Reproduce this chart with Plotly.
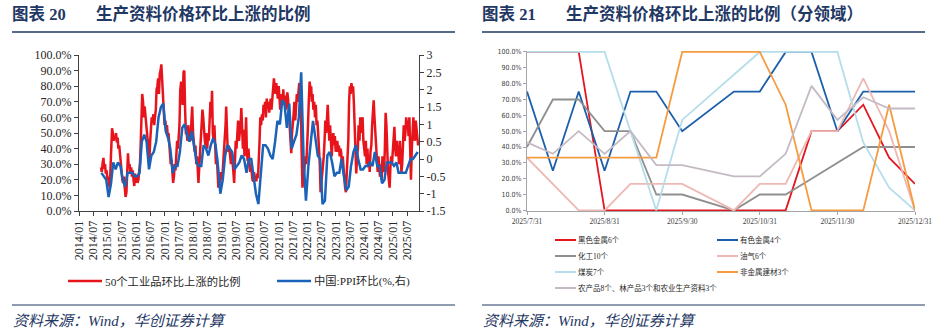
import pandas as pd
import plotly.graph_objects as go

W, H = 943, 333

# ---------------- left panel data ----------------
# share of 50 industrial products whose price rose, per ten-day period (%)
rise_2014 = [28, 25, 31, 34, 27, 30, 24, 26, 20]  # Oct-Dec
rise_2015 = [22, 17, 15, 30, 45, 53, 50, 45, 48, 46, 50, 44, 47, 40, 42, 35, 28, 25,
             20, 18, 22, 15, 9, 12, 25, 37, 28, 30, 25, 28, 22, 26, 20, 16, 24, 18]
rise_2016 = [22, 18, 20, 25, 30, 42, 55, 75, 70, 60, 67, 62, 55, 50, 45, 40, 33, 45,
             52, 60, 58, 62, 55, 60, 65, 78, 80, 85, 75, 88, 90, 94, 85, 72, 60, 55]
rise_2017 = [58, 52, 55, 48, 50, 42, 38, 30, 33, 25, 18, 22, 30, 26, 35, 45, 40, 48,
             55, 77, 83, 75, 68, 89, 90, 65, 50, 50, 45, 55, 48, 52, 45, 58, 67, 50]
rise_2018 = [45, 38, 42, 30, 35, 25, 18, 28, 40, 45, 55, 65, 60, 48, 45, 42, 50, 40,
             48, 45, 55, 70, 60, 77, 50, 45, 55, 38, 30, 35, 25, 15, 22, 18, 25, 20]
rise_2019 = [22, 30, 35, 45, 55, 67, 45, 38, 42, 40, 35, 30, 38, 28, 25, 18, 30, 45,
             40, 50, 58, 45, 50, 55, 66, 50, 40, 52, 35, 45, 60, 38, 32, 40, 28, 25]
rise_2020 = [30, 22, 20, 19, 25, 20, 22, 19, 24, 21, 30, 45, 60, 55, 62, 58, 68, 65,
             70, 60, 72, 66, 70, 63, 68, 72, 65, 75, 78, 85, 80, 75, 82, 78, 72, 80]
rise_2021 = [72, 65, 70, 75, 70, 78, 68, 74, 65, 70, 76, 72, 65, 55, 48, 37, 50, 55,
             62, 70, 58, 66, 75, 70, 78, 82, 80, 72, 40, 15, 20, 25, 28, 35, 30, 40]
rise_2022 = [55, 70, 83, 78, 80, 70, 75, 65, 70, 60, 68, 55, 58, 50, 40, 30, 12, 18,
             20, 28, 35, 45, 58, 50, 62, 68, 55, 45, 55, 40, 35, 45, 50, 42, 48, 38]
rise_2023 = [40, 45, 38, 42, 35, 40, 38, 30, 35, 28, 20, 15, 12, 22, 28, 45, 70, 80,
             75, 82, 78, 80, 70, 55, 45, 24, 35, 40, 55, 45, 60, 50, 58, 60, 45, 40]
rise_2024 = [35, 45, 30, 40, 28, 35, 25, 38, 42, 55, 65, 71, 60, 50, 40, 30, 25, 35,
             28, 22, 30, 20, 35, 30, 25, 40, 63, 55, 30, 25, 20, 15, 28, 35, 30, 40]
rise_2025 = [45, 54, 40, 35, 45, 38, 40, 30, 45, 35, 25, 30, 40, 55, 45, 50, 60, 55,
             58, 48, 60, 35, 20, 40, 55, 60, 50, 45, 58, 52, 48, 42]  # to Nov 20

# China PPI, month on month (%)
ppi_2014 = [-0.4, -0.5, -0.6]  # Oct-Dec
ppi_2015 = [-1.1, -0.7, -0.1, -0.3, -0.1, -0.2, -0.6, -0.8, -0.4, -0.4, -0.4, -0.5]
ppi_2016 = [-0.5, -0.4, 0.5, 0.7, 0.5, -0.3, 0.1, 0.2, 0.5, 1.2, 1.5, 1.6]
ppi_2017 = [0.8, 0.6, 0.3, -0.4, -0.2, -0.2, 0.2, 0.9, 1.0, 0.7, 0.5, 0.8]
ppi_2018 = [0.3, -0.1, -0.2, -0.2, 0.4, 0.3, 0.1, 0.4, 0.6, 0.4, -0.2, -1.0]
ppi_2019 = [-0.6, 0.1, 0.4, 0.3, 0.2, -0.3, -0.2, -0.1, 0.1, 0.0, -0.4, 0.0]
ppi_2020 = [0.0, -0.5, -1.0, -1.3, -0.4, 0.4, 0.4, 0.3, 0.1, 0.0, 0.5, 1.1]
ppi_2021 = [1.0, 1.7, 1.6, 0.9, 1.6, 0.3, 0.5, 0.7, 1.2, 2.5, 0.0, -1.2]
ppi_2022 = [-0.2, 0.5, 1.1, 0.6, 0.1, 0.0, -1.3, -1.2, 0.1, 0.2, -0.1, -0.5]
ppi_2023 = [-0.4, -0.4, 0.0, -0.5, -0.9, -0.8, -0.2, 0.2, 0.4, 0.0, -0.3, -0.3]
ppi_2024 = [-0.2, -0.2, -0.1, -0.2, 0.2, -0.2, -0.2, -0.7, -0.6, -0.1, -0.1, -0.1]
ppi_2025 = [-0.2, -0.1, -0.4, -0.4, -0.4, -0.4, -0.2, 0.0, 0.0, 0.1, 0.2]  # to Nov

left_ticks = [f"{y}/{m:02d}" for y in range(2014, 2026) for m in (1, 7)]

# ---------------- right panel data (%) ----------------
sector_dates = ["2025/7/31", "2025/8/10", "2025/8/20", "2025/8/31", "2025/9/10", "2025/9/20",
                "2025/9/30", "2025/10/10", "2025/10/20", "2025/10/31", "2025/11/10",
                "2025/11/20", "2025/11/30", "2025/12/10", "2025/12/20", "2025/12/31"]
ferrous = [100, 100, 100, 0, 0, 0, 0, None, 0, 0, 0, 50, 50, 66.7, 33.3, 16.7]
nonferrous = [75, 25, 75, 25, 75, 75, 50, None, 75, 75, 100, 100, 50, 75, 75, 75]
chemical = [40, 70, 70, 50, 50, 10, 10, None, 0, 10, 10, 20, 30, 40, 40, 40]
oil_gas = [33.3, 16.7, 0, 0, 16.7, 16.7, 16.7, None, 0, 16.7, 16.7, 50, 50, 83.3, 50, 0]
coal = [100, 100, 100, 100, 50, 0, 57.1, None, 85.7, 100, 100, 100, 100, 42.9, 14.3, 0]
building = [33.3, 33.3, 33.3, 33.3, 33.3, 33.3, 100, None, 100, 100, 66.7, 0, 0, 0, 66.7, 0]
agri = [42.9, 35.7, 50, 35.7, 50, 28.6, 28.6, None, 21.4, 21.4, 35.7, 78.6, 57.1, 71.4, 64.3, 64.3]

# ---------------- assemble series ----------------
rise_values = (rise_2014 + rise_2015 + rise_2016 + rise_2017 + rise_2018 + rise_2019 +
               rise_2020 + rise_2021 + rise_2022 + rise_2023 + rise_2024 + rise_2025)
ppi_values = (ppi_2014 + ppi_2015 + ppi_2016 + ppi_2017 + ppi_2018 + ppi_2019 +
              ppi_2020 + ppi_2021 + ppi_2022 + ppi_2023 + ppi_2024 + ppi_2025)

months = pd.period_range("2014-10", "2025-11", freq="M")
rise_dates = []
for p in months:
    rise_dates += [pd.Timestamp(p.year, p.month, 10), pd.Timestamp(p.year, p.month, 20),
                   pd.Timestamp(p.year, p.month, p.days_in_month)]
rise_dates = rise_dates[:len(rise_values)]
ppi_dates = [pd.Timestamp(p.year, p.month, 15) for p in months][:len(ppi_values)]
left_tickvals = [pd.Timestamp(int(t[:4]), int(t[5:]), 1) for t in left_ticks]

# ---------------- styling ----------------
NAVY = "#1F3864"
SERIF = "Liberation Serif, Noto Sans CJK SC"
NARROW = "Liberation Sans Narrow, DejaVu Sans Condensed, Liberation Sans"
RED, BLUE = "#E8141C", "#1B63B8"

left_series = [
    ("50个工业品环比上涨的比例", rise_dates, rise_values, RED, "y"),
    ("中国:PPI环比(%,右)", ppi_dates, ppi_values, BLUE, "y2"),
]
right_series = [
    ("黑色金属6个", ferrous, "#E3161F"),
    ("有色金属4个", nonferrous, "#1B5FAA"),
    ("化工10个", chemical, "#8F8F8F"),
    ("油气6个", oil_gas, "#EDB8B3"),
    ("煤炭7个", coal, "#B5DDEA"),
    ("非金属建材3个", building, "#F59B40"),
    ("农产品8个、林产品3个和农业生产资料3个", agri, "#C4BAC4"),
]


def px(x):
    return x / W


def py(y):
    return 1 - y / H


fig = go.Figure()
for name, xs, ys, color, yax in left_series:
    fig.add_trace(go.Scatter(x=xs, y=ys, name=name, mode="lines", xaxis="x", yaxis=yax,
                             line=dict(color=color, width=2.5), showlegend=False))
for name, ys, color in right_series:
    fig.add_trace(go.Scatter(x=sector_dates, y=ys, name=name, mode="lines", xaxis="x2",
                             yaxis="y3", connectgaps=True, showlegend=False,
                             line=dict(color=color, width=1.8)))

base = dict(showgrid=False, zeroline=False, showline=True, ticks="outside", automargin=False)
dark = dict(linecolor="#404040", tickcolor="#404040", linewidth=1, ticklen=4)
grey = dict(linecolor="#A6A6A6", tickcolor="#A6A6A6", linewidth=1, ticklen=3)
ppi_ticks = [-1.5, -1, -0.5, 0, 0.5, 1, 1.5, 2, 2.5, 3]

fig.update_layout(
    width=W, height=H, autosize=False,
    margin=dict(l=0, r=0, t=0, b=0, pad=0, autoexpand=False),
    paper_bgcolor="white", plot_bgcolor="white", showlegend=False,
    xaxis=dict(domain=[px(79), px(419)], anchor="y", type="date",
               range=["2014-01-01", "2025-12-01"], tickmode="array",
               tickvals=left_tickvals, ticktext=left_ticks, tickangle=-90,
               tickfont=dict(family=SERIF, size=12, color="#262626"), **base, **dark),
    yaxis=dict(domain=[py(211), py(55)], anchor="x", range=[0, 100], tickmode="array",
               tickvals=list(range(0, 101, 10)),
               ticktext=[f"{v:.1f}%" for v in range(0, 101, 10)],
               tickfont=dict(family=SERIF, size=12, color="#262626"), **base, **dark),
    yaxis2=dict(overlaying="y", side="right", anchor="x", range=[-1.5, 3], tickmode="array",
                tickvals=ppi_ticks, ticktext=[f"{v:g}" for v in ppi_ticks],
                tickfont=dict(family=SERIF, size=12, color="#262626"), **base, **dark),
    xaxis2=dict(domain=[px(527), px(915)], anchor="y3", type="category", range=[0, 15],
                tickmode="array", tickvals=sector_dates[::3], ticktext=sector_dates[::3],
                tickangle=0, layer="below traces",
                tickfont=dict(family=SERIF, size=7.5, color="#404040"), **base, **grey),
    yaxis3=dict(domain=[py(211), py(51)], anchor="x2", range=[-0.4, 100.6], tickmode="array",
                tickvals=list(range(0, 101, 10)),
                ticktext=[f"{v:.1f}%" for v in range(0, 101, 10)], layer="below traces",
                tickfont=dict(family=NARROW, size=7, color="#404040"), **base, **grey),
)

shapes, notes = [], []


def hline(x0, x1, y, color, width):
    shapes.append(dict(type="line", xref="paper", yref="paper", x0=px(x0), x1=px(x1),
                       y0=py(y), y1=py(y), line=dict(color=color, width=width)))


def text(x, y, s, size, color=NAVY, family=SERIF):
    notes.append(dict(xref="paper", yref="paper", x=px(x), y=py(y), text=s, showarrow=False,
                      xanchor="left", yanchor="middle", borderpad=0,
                      font=dict(family=family, size=size, color=color)))


# headings, rules and source notes for both panels
for x0, num, title in [(12, "20", "生产资料价格环比上涨的比例"),
                       (482, "21", "生产资料价格环比上涨的比例（分领域）")]:
    text(x0 - 1, 15, f"<b>图表 {num}</b>", 16.5)
    text(x0 + 83, 15, f"<b>{title}</b>", 16.5)
    hline(x0, x0 + 443, 32, NAVY, 1.5)
    hline(x0, x0 + 443, 305, NAVY, 1.2)
    text(x0, 321, "<i>资料来源：Wind，华创证券计算</i>", 15)

# legend of the left panel
for (name, _, _, color, _), (lx, ly) in zip(left_series, [(68, 281), (277, 281)]):
    hline(lx, lx + 34, ly, color, 2.6)
    text(lx + 36, ly, name, 11.3, color="#262626")

# legend of the right panel: two columns
for i, (name, _, color) in enumerate(right_series):
    lx = 555 if i % 2 == 0 else 717
    ly = 240 + 16 * (i // 2)
    hline(lx, lx + 21, ly, color, 2)
    text(lx + 22, ly, name, 7.5, color="#262626")

fig.update_layout(shapes=shapes, annotations=notes)
fig.write_html("out.html")
